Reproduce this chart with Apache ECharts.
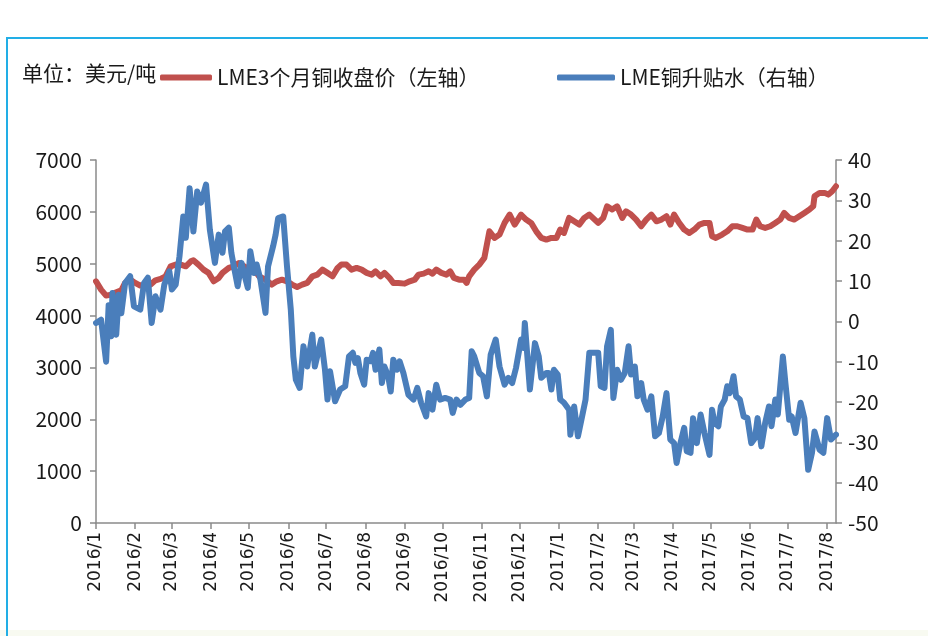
<!DOCTYPE html>
<html>
<head>
<meta charset="utf-8">
<script src="https://cdn.jsdelivr.net/npm/echarts@6/dist/echarts.min.js"></script>
<style>
html,body{margin:0;padding:0;background:#fff;}
#main{width:928px;height:636px;}
</style>
</head>
<body>
<div id="main"></div>
<script>
// ---- data ----
var startDate = '2016/1/1';
var endDate = '2017/8/8';

var redName = 'LME3个月铜收盘价（左轴）';
var blueName = 'LME铜升贴水（右轴）';
var unitText = '单位：美元/吨';

var redDates = ['2016/1/1','2016/1/5','2016/1/9','2016/1/13','2016/1/17','2016/1/21','2016/1/24','2016/1/28','2016/2/1','2016/2/5','2016/2/9','2016/2/13','2016/2/17','2016/2/21','2016/2/25','2016/2/29','2016/3/4','2016/3/8','2016/3/12','2016/3/16','2016/3/18','2016/3/22','2016/3/26','2016/3/30','2016/4/3','2016/4/7','2016/4/10','2016/4/15','2016/4/19','2016/4/23','2016/4/27','2016/5/1','2016/5/5','2016/5/9','2016/5/14','2016/5/19','2016/5/23','2016/5/27','2016/5/31','2016/6/4','2016/6/8','2016/6/12','2016/6/16','2016/6/20','2016/6/24','2016/6/28','2016/7/2','2016/7/6','2016/7/10','2016/7/13','2016/7/17','2016/7/21','2016/7/25','2016/7/29','2016/8/2','2016/8/6','2016/8/9','2016/8/13','2016/8/16','2016/8/20','2016/8/23','2016/8/27','2016/9/1','2016/9/5','2016/9/9','2016/9/12','2016/9/16','2016/9/20','2016/9/23','2016/9/26','2016/9/30','2016/10/4','2016/10/7','2016/10/10','2016/10/14','2016/10/18','2016/10/20','2016/10/22','2016/10/26','2016/10/30','2016/11/3','2016/11/7','2016/11/11','2016/11/15','2016/11/19','2016/11/23','2016/11/27','2016/12/2','2016/12/6','2016/12/10','2016/12/14','2016/12/18','2016/12/22','2016/12/26','2016/12/30','2017/1/2','2017/1/5','2017/1/9','2017/1/13','2017/1/17','2017/1/21','2017/1/25','2017/2/1','2017/2/5','2017/2/8','2017/2/12','2017/2/16','2017/2/20','2017/2/23','2017/2/27','2017/3/3','2017/3/7','2017/3/11','2017/3/15','2017/3/19','2017/3/23','2017/3/27','2017/3/30','2017/4/2','2017/4/6','2017/4/10','2017/4/14','2017/4/18','2017/4/22','2017/4/26','2017/4/30','2017/5/2','2017/5/5','2017/5/10','2017/5/14','2017/5/18','2017/5/22','2017/5/26','2017/5/30','2017/6/3','2017/6/6','2017/6/9','2017/6/13','2017/6/17','2017/6/21','2017/6/25','2017/6/28','2017/7/2','2017/7/6','2017/7/10','2017/7/14','2017/7/18','2017/7/21','2017/7/22','2017/7/26','2017/7/30','2017/8/2','2017/8/5','2017/8/8'];
var redValues = [4661,4500,4385,4404,4448,4487,4630,4693,4630,4578,4597,4597,4680,4707,4757,4950,4983,4983,4950,5046,5066,4983,4886,4823,4661,4726,4823,4919,4950,5015,4950,4886,4886,4757,4693,4597,4661,4693,4661,4597,4552,4597,4630,4757,4790,4886,4823,4757,4919,4983,4983,4886,4919,4886,4823,4790,4853,4757,4823,4726,4630,4630,4616,4661,4693,4790,4809,4853,4809,4886,4823,4790,4853,4726,4693,4693,4630,4757,4886,4983,5112,5625,5498,5562,5787,5947,5754,5947,5851,5787,5625,5498,5465,5498,5498,5658,5594,5883,5818,5754,5883,5947,5787,5883,6107,6044,6107,5883,6011,5947,5851,5722,5851,5947,5818,5851,5915,5754,5947,5787,5658,5594,5658,5754,5787,5787,5529,5498,5562,5625,5722,5722,5690,5658,5658,5851,5722,5690,5722,5787,5851,5980,5883,5851,5915,5980,6044,6107,6300,6366,6366,6333,6397,6493];

var blueDates = ['2016/1/1','2016/1/5','2016/1/9','2016/1/11','2016/1/13','2016/1/14','2016/1/17','2016/1/19','2016/1/21','2016/1/24','2016/1/28','2016/1/31','2016/2/5','2016/2/8','2016/2/11','2016/2/14','2016/2/17','2016/2/21','2016/2/24','2016/2/28','2016/3/1','2016/3/4','2016/3/7','2016/3/10','2016/3/12','2016/3/15','2016/3/18','2016/3/21','2016/3/24','2016/3/28','2016/3/31','2016/4/4','2016/4/7','2016/4/10','2016/4/12','2016/4/15','2016/4/17','2016/4/19','2016/4/22','2016/4/25','2016/4/27','2016/4/30','2016/5/2','2016/5/5','2016/5/7','2016/5/10','2016/5/14','2016/5/16','2016/5/20','2016/5/22','2016/5/24','2016/5/28','2016/5/31','2016/6/3','2016/6/5','2016/6/7','2016/6/10','2016/6/13','2016/6/16','2016/6/20','2016/6/22','2016/6/27','2016/6/30','2016/7/2','2016/7/4','2016/7/8','2016/7/12','2016/7/16','2016/7/19','2016/7/22','2016/7/24','2016/7/26','2016/7/28','2016/7/31','2016/8/2','2016/8/5','2016/8/7','2016/8/9','2016/8/12','2016/8/14','2016/8/16','2016/8/19','2016/8/21','2016/8/23','2016/8/26','2016/8/28','2016/8/31','2016/9/4','2016/9/8','2016/9/11','2016/9/14','2016/9/18','2016/9/20','2016/9/23','2016/9/26','2016/9/29','2016/10/3','2016/10/7','2016/10/9','2016/10/12','2016/10/15','2016/10/19','2016/10/22','2016/10/24','2016/10/26','2016/10/30','2016/11/2','2016/11/5','2016/11/8','2016/11/12','2016/11/15','2016/11/19','2016/11/22','2016/11/25','2016/11/28','2016/12/2','2016/12/4','2016/12/5','2016/12/9','2016/12/13','2016/12/16','2016/12/18','2016/12/22','2016/12/24','2016/12/26','2016/12/28','2016/12/31','2017/1/2','2017/1/5','2017/1/9','2017/1/10','2017/1/13','2017/1/16','2017/1/19','2017/1/22','2017/1/25','2017/2/1','2017/2/3','2017/2/6','2017/2/8','2017/2/11','2017/2/13','2017/2/16','2017/2/19','2017/2/22','2017/2/25','2017/2/27','2017/3/2','2017/3/4','2017/3/7','2017/3/9','2017/3/12','2017/3/15','2017/3/18','2017/3/21','2017/3/24','2017/3/27','2017/3/30','2017/4/2','2017/4/4','2017/4/7','2017/4/10','2017/4/12','2017/4/15','2017/4/17','2017/4/20','2017/4/23','2017/4/26','2017/4/30','2017/5/2','2017/5/4','2017/5/7','2017/5/9','2017/5/12','2017/5/14','2017/5/16','2017/5/19','2017/5/21','2017/5/24','2017/5/27','2017/5/30','2017/6/2','2017/6/5','2017/6/7','2017/6/10','2017/6/13','2017/6/16','2017/6/18','2017/6/21','2017/6/23','2017/6/27','2017/6/29','2017/7/2','2017/7/4','2017/7/7','2017/7/11','2017/7/14','2017/7/17','2017/7/20','2017/7/22','2017/7/26','2017/7/29','2017/8/1','2017/8/4','2017/8/8'];
var blueValues = [-0.4,0.4,-10,4,-3.7,7,-3.3,6.6,2,9.5,11.2,3.7,2.9,9.5,10.8,-0.4,6.2,2.9,9.1,12.4,7.9,9.1,16.1,26,20.7,33,22.3,32.2,29.4,33.9,22.7,14.5,21.5,17,22.3,23.2,17,13.6,8.7,14.5,12,8.3,17.4,12,14.1,10.3,2.1,13.6,18.6,21.5,25.6,26,13.6,2.9,-8.7,-14.5,-16.5,-6.2,-11.2,-3.3,-11.2,-4.5,-12,-19.4,-12.4,-19.8,-16.9,-16.1,-8.7,-7.8,-10.3,-9.1,-12.8,-15.7,-9.5,-9.9,-7.8,-12,-7,-15.3,-11.2,-13.6,-17.4,-9.5,-12,-9.9,-12.8,-18.2,-19.4,-16.5,-20.2,-23.6,-17.8,-21.9,-15.7,-19.4,-19,-19.4,-22.7,-19.4,-20.7,-19.4,-19,-7.4,-8.7,-12.8,-13.6,-18.6,-8.3,-4.5,-11.2,-15.7,-14,-15.3,-11.6,-4.5,-6.6,-0.4,-16.9,-5.4,-8.7,-14,-12.8,-12.8,-16.9,-12,-13.2,-19.4,-20.2,-21.9,-28.1,-21.1,-28.5,-24,-19.4,-7.8,-7.8,-16.1,-16.5,-6.2,-2.1,-19,-12,-14.5,-12.8,-6.2,-13.2,-11.2,-18.6,-15.3,-19.4,-21.9,-18.6,-28.5,-27.7,-23.6,-17.8,-29.3,-30.2,-35.1,-30.2,-26.4,-32.2,-32.6,-24,-30.2,-23.1,-27.7,-33.1,-21.9,-25.2,-26,-21.1,-19.4,-16.1,-17.8,-13.6,-18.6,-19.4,-23.6,-24,-30.2,-28.9,-24,-31,-25.2,-21.1,-26,-19.4,-23.1,-8.7,-15.3,-24.4,-23.6,-27.7,-20.2,-24,-36.8,-32.6,-27.3,-31.8,-32.6,-24,-29.3,-28.1];

// daily category axis from startDate to endDate
function buildDays(a, b) {
  var pa = a.split('/'), pb = b.split('/');
  var t = Date.UTC(+pa[0], +pa[1] - 1, +pa[2]);
  var e = Date.UTC(+pb[0], +pb[1] - 1, +pb[2]);
  var out = [];
  while (t <= e) {
    var d = new Date(t);
    out.push(d.getUTCFullYear() + '/' + (d.getUTCMonth() + 1) + '/' + d.getUTCDate());
    t += 86400000;
  }
  return out;
}
var days = buildDays(startDate, endDate);

function pairs(ds, vs) { return ds.map(function (d, i) { return [d, vs[i]]; }); }
function isMonthStart(idx, val) { return String(val).split('/')[2] === '1'; }

var FONT = '"Noto Sans CJK SC", "Noto Sans", sans-serif';
var axisColor = '#8a8a8a';

var chart = echarts.init(document.getElementById('main'), null, {renderer: 'canvas'});
chart.setOption({
  animation: false,
  backgroundColor: '#ffffff',
  graphic: [
    {type: 'rect', shape: {x: 0, y: 630, width: 928, height: 6}, style: {fill: '#f8faf1'}, silent: true, z: -10},
    {type: 'rect', shape: {x: 7, y: 38, width: 960, height: 640}, style: {fill: null, stroke: '#22aee6', lineWidth: 2}, silent: true},
    {type: 'text', left: 22, top: 63, style: {text: unitText, font: '21px ' + FONT, fill: '#1a1a1a'}, silent: true}
  ],
  legend: [
    {data: [redName], left: 155, top: 62, itemWidth: 52, itemHeight: 6, itemGap: 0, icon: 'roundRect',
     textStyle: {fontSize: 21, fontFamily: FONT, color: '#1a1a1a'}, selectedMode: false},
    {data: [blueName], left: 552, top: 62, itemWidth: 58, itemHeight: 6, itemGap: 0, icon: 'roundRect',
     textStyle: {fontSize: 21, fontFamily: FONT, color: '#1a1a1a'}, selectedMode: false}
  ],
  grid: {left: 96, right: 92, top: 160, bottom: 113, containLabel: false},
  xAxis: {
    type: 'category',
    data: days,
    boundaryGap: false,
    axisLine: {lineStyle: {color: axisColor, width: 1.5}},
    axisTick: {show: true, interval: isMonthStart, length: 6, lineStyle: {color: axisColor, width: 1.5}},
    axisLabel: {
      interval: isMonthStart,
      rotate: 90,
      margin: 9,
      fontSize: 17,
      fontFamily: '"DejaVu Sans", sans-serif',
      color: '#1a1a1a',
      formatter: function (v) { var p = v.split('/'); return p[0] + '/' + p[1]; }
    },
    splitLine: {show: false}
  },
  yAxis: [
    {type: 'value', min: 0, max: 7000, interval: 1000, position: 'left',
     axisLine: {show: true, lineStyle: {color: axisColor, width: 1.5}},
     axisTick: {show: true, length: 6, lineStyle: {color: axisColor, width: 1.5}},
     axisLabel: {fontSize: 21, fontFamily: FONT, color: '#1a1a1a', margin: 14,
                 formatter: function (v) { return String(v); }},
     splitLine: {show: false}},
    {type: 'value', min: -50, max: 40, interval: 10, position: 'right',
     axisLine: {show: true, lineStyle: {color: axisColor, width: 1.5}},
     axisTick: {show: true, length: 6, lineStyle: {color: axisColor, width: 1.5}},
     axisLabel: {fontSize: 21, fontFamily: FONT, color: '#1a1a1a', margin: 12,
                 formatter: function (v) { return String(v); }},
     splitLine: {show: false}}
  ],
  series: [
    {name: redName, type: 'line', yAxisIndex: 0, data: pairs(redDates, redValues),
     showSymbol: false, symbol: 'none', color: '#c0504d',
     lineStyle: {width: 6, color: '#c0504d', cap: 'round', join: 'round'}},
    {name: blueName, type: 'line', yAxisIndex: 1, data: pairs(blueDates, blueValues),
     showSymbol: false, symbol: 'none', color: '#4a7ebb',
     lineStyle: {width: 6, color: '#4a7ebb', cap: 'round', join: 'round'}}
  ]
});
</script>
</body>
</html>
